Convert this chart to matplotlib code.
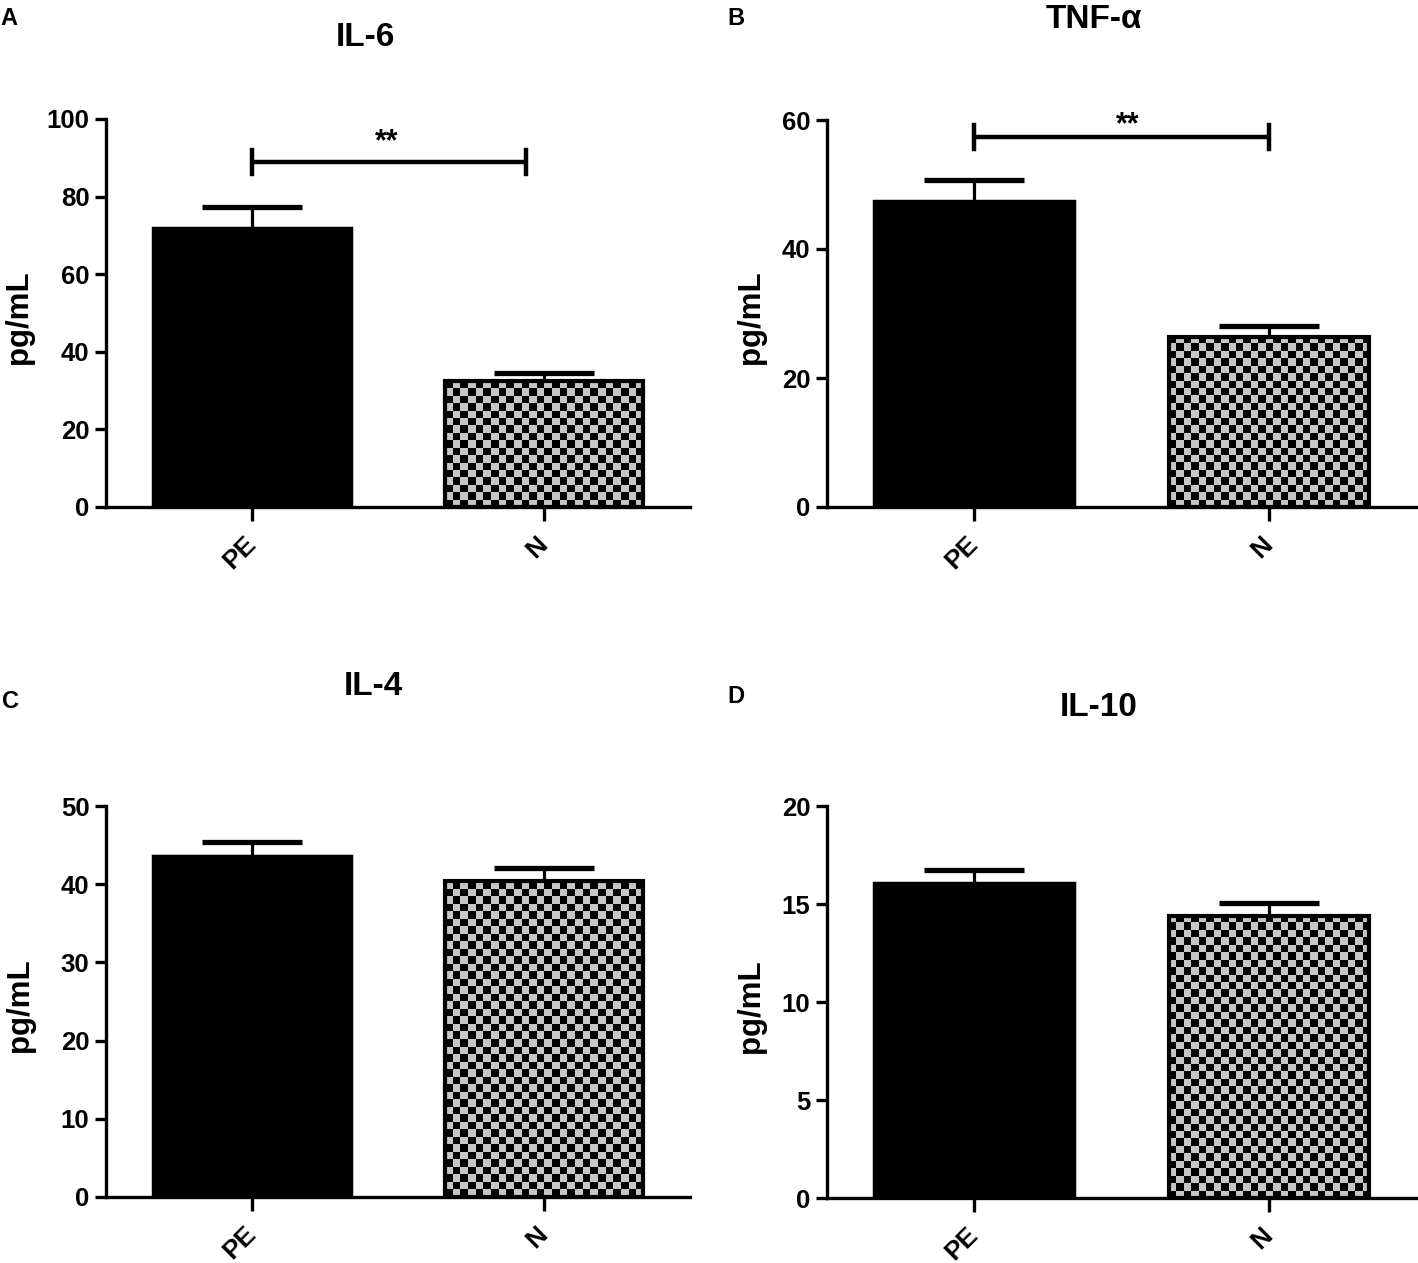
import numpy as np
import matplotlib
matplotlib.use("Agg")
import matplotlib.pyplot as plt

plt.rcParams['font.family'] = ['Liberation Sans', 'DejaVu Sans']
plt.rcParams['font.weight'] = 'bold'

# ---------------- data ----------------
groups = ["PE", "N"]
panel_letters = ["A", "B", "C", "D"]
titles = ["IL-6", "TNF-α", "IL-4", "IL-10"]
il6_mean = [72.0, 32.4]
il6_sem = [5.3, 2.1]
tnf_mean = [47.5, 26.4]
tnf_sem = [3.2, 1.6]
il4_mean = [43.6, 40.4]
il4_sem = [1.8, 1.7]
il10_mean = [16.05, 14.4]
il10_sem = [0.7, 0.65]
ymax = [100, 60, 50, 20]
ystep = [20, 20, 10, 5]
sig_label = ["**", "**", None, None]
sig_y = [88.9, 57.4, None, None]
sig_x_end = [0.94, 1.0, None, None]
sig_text_x = [0.46, 0.52, None, None]
sig_text_y = [92.0, 57.9, None, None]

means = [il6_mean, tnf_mean, il4_mean, il10_mean]
sems = [il6_sem, tnf_sem, il4_sem, il10_sem]

W, H = 1418, 1263
fig = plt.figure(figsize=(W / 100, H / 100), dpi=100)

# axes boxes in pixels: left, right, top(y), bottom(y)
boxes = [(106, 690, 119, 507), (827, 1416, 120, 507),
         (106, 690, 806, 1197), (827, 1416, 806, 1198)]
title_pos = [(365, 46), (1094, 28), (373, 695), (1099, 716)]
letter_pos = [(0, 25), (727, 25), (2, 708), (727, 703)]
ylabel_right = [34, 766, 35, 766]

bar_w = 0.68
cap_w = 0.34
cell_px = 7.5


def px2fig(x, y):
    return x / W, 1 - y / H


for i in range(4):
    l, r, t, b = boxes[i]
    ax = fig.add_axes([l / W, 1 - b / H, (r - l) / W, (b - t) / H])
    xlim = (-0.5, 1.5)
    ylim = (0, ymax[i])
    ax_w_px = r - l
    ax_h_px = b - t

    m = means[i]
    s = sems[i]
    # PE bar (solid black)
    ax.bar(0, m[0], bar_w, color='black', edgecolor='black', linewidth=2.5, zorder=3)
    # N bar (checkerboard)
    border = ax.bar(1, m[1], bar_w, color='#c4c4c4', edgecolor='black', linewidth=0, zorder=2)[0]
    wpx = bar_w / (xlim[1] - xlim[0]) * ax_w_px
    hpx = m[1] / (ylim[1] - ylim[0]) * ax_h_px
    nx = max(1, int(round(wpx / cell_px)))
    ny = max(1, int(round(hpx / cell_px)))
    yy, xx = np.indices((ny, nx))
    checker = ((xx + yy) % 2).astype(float)
    img = ax.imshow(checker, cmap=matplotlib.colors.ListedColormap(['black', '#c6c6c6']),
                    extent=(1 - bar_w / 2, 1 + bar_w / 2, 0, m[1]), origin='lower',
                    aspect='auto', interpolation='nearest', zorder=2.5)
    img.set_clip_path(border)
    ax.bar(1, m[1], bar_w, fill=False, edgecolor='black', linewidth=3, zorder=3)

    # error bars (upper only)
    xs = np.arange(len(groups))
    tops = np.array(m) + np.array(s)
    ax.vlines(xs, m, tops, color='black', lw=2.3, zorder=2)
    ax.hlines(tops, xs - cap_w / 2, xs + cap_w / 2, color='black', lw=3.8, zorder=2)

    # significance bracket
    if sig_label[i]:
        sy = sig_y[i]
        xe = sig_x_end[i]
        span = ymax[i] * 0.031
        ax.plot([0, xe], [sy, sy], color='black', lw=3.2, clip_on=False, solid_capstyle='butt')
        ax.plot([0, 0], [sy - span, sy + span], color='black', lw=3.2, clip_on=False)
        ax.plot([xe, xe], [sy - span, sy + span], color='black', lw=3.2, clip_on=False)
        ax.text(sig_text_x[i], sig_text_y[i], sig_label[i], ha='center', va='baseline',
                fontsize=22, fontweight='bold', clip_on=False)

    ax.set_xlim(*xlim)
    ax.set_ylim(*ylim)

    # spines
    for sp in ['top', 'right']:
        ax.spines[sp].set_visible(False)
    for sp in ['left', 'bottom']:
        ax.spines[sp].set_linewidth(2.4)
    yt = np.arange(0, ymax[i] + 0.001, ystep[i])
    ax.set_yticks(yt)
    ax.set_yticklabels([f"{v:g}" for v in yt], fontsize=18.5, fontweight='bold')
    ax.tick_params(axis='y', length=8, width=2.4, pad=4)
    ax.set_xticks(xs)
    ax.set_xticklabels(groups, rotation=45, ha='right', va='center',
                       rotation_mode='anchor', fontsize=19, fontweight='bold')
    ax.tick_params(axis='x', length=10, width=2.4, pad=14)
    ax.set_ylabel("pg/mL", fontsize=22.5, fontweight='bold')
    ax.yaxis.set_label_coords((ylabel_right[i] - l) / ax_w_px, 0.49)

    tx, ty = title_pos[i]
    fig.text(*px2fig(tx, ty), titles[i], ha='center', va='baseline', fontsize=24, fontweight='bold')
    lx, ly = letter_pos[i]
    fig.text(*px2fig(lx, ly), panel_letters[i], ha='left', va='baseline', fontsize=17, fontweight='bold')

fig.savefig("out.png", dpi=100, facecolor='white')
